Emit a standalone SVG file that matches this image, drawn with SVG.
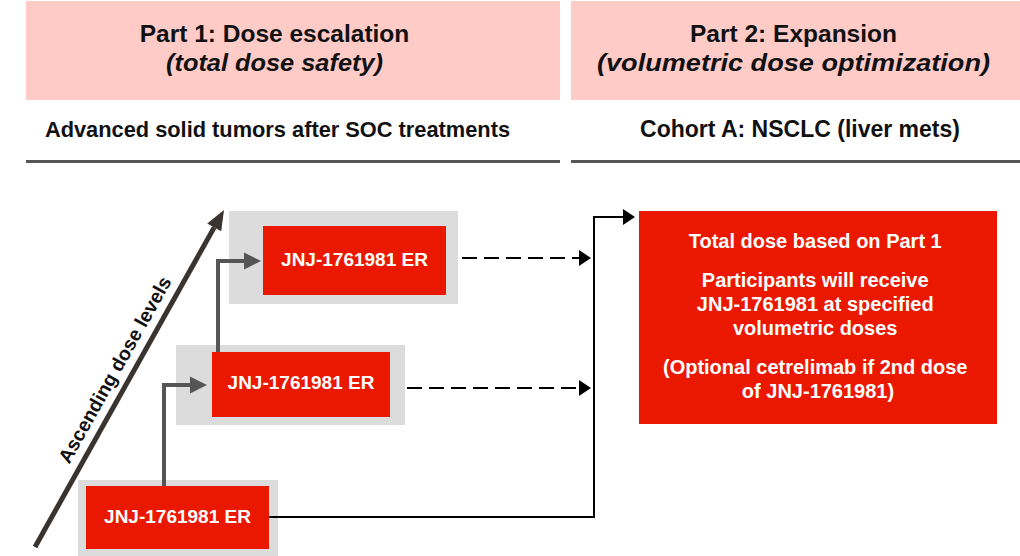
<svg xmlns="http://www.w3.org/2000/svg" width="1020" height="556" viewBox="0 0 1020 556">
<style>
.hdr{fill:#FFCBC7}
.rule{stroke:#555;stroke-width:3}
.t{font-family:"Liberation Sans",Arial,sans-serif;font-weight:bold;text-anchor:middle}
.blk{fill:#111}
.wht{fill:#fff}
.gray{fill:#DCDCDC}
.red{fill:#EB1800}
.step{fill:none;stroke:#555;stroke-width:4}
.conn{fill:none;stroke:#000;stroke-width:2}
.dash{stroke-dasharray:15 7}
</style>
<rect width="1020" height="556" fill="#fff"/>
<g id="header1">
<rect class="hdr" x="26" y="1" width="534" height="99"/>
<text class="t blk" x="274.5" y="42" font-size="24.5">Part 1: Dose escalation</text>
<text class="t blk" x="274.5" y="71" font-size="24" font-style="italic" textLength="217" lengthAdjust="spacingAndGlyphs">(total dose safety)</text>
<text class="t blk" x="277.5" y="137" font-size="21.8">Advanced solid tumors after SOC treatments</text>
<line class="rule" x1="26" y1="161.5" x2="560" y2="161.5"/>
</g>
<g id="header2">
<rect class="hdr" x="571" y="1" width="449" height="99"/>
<text class="t blk" x="793.5" y="42" font-size="24.5">Part 2: Expansion</text>
<text class="t blk" x="793.5" y="71" font-size="24" font-style="italic" textLength="393" lengthAdjust="spacingAndGlyphs">(volumetric dose optimization)</text>
<text class="t blk" x="800" y="137" font-size="23">Cohort A: NSCLC (liver mets)</text>
<line class="rule" x1="571" y1="161.5" x2="1020" y2="161.5"/>
</g>
<g id="axis">
<line x1="35" y1="547" x2="214.2" y2="227.4" stroke="#3A3431" stroke-width="5"/>
<polygon points="224,210 221.2,231.3 207.2,223.5" fill="#3A3431"/>
<text class="t blk" font-size="19.5" transform="translate(120.6,373) rotate(-60.7)">Ascending dose levels</text>
</g>
<g id="node-low">
<rect class="gray" x="78" y="480" width="200" height="76"/>
<rect class="red" x="86" y="486" width="183" height="63"/>
<text class="t wht" x="177.5" y="523" font-size="19">JNJ-1761981 ER</text>
</g>
<g id="node-mid">
<rect class="gray" x="176" y="345" width="229" height="80"/>
<rect class="red" x="212" y="352" width="178" height="65"/>
<text class="t wht" x="301" y="389" font-size="19">JNJ-1761981 ER</text>
</g>
<g id="node-high">
<rect class="gray" x="229" y="211" width="229" height="93"/>
<rect class="red" x="263" y="226" width="183" height="69"/>
<text class="t wht" x="354.5" y="266" font-size="19">JNJ-1761981 ER</text>
</g>
<g id="node-expansion">
<rect class="red" x="639" y="211" width="358" height="213"/>
<text class="t wht" font-size="20">
<tspan x="818" y="248">Total dose based on Part 1</tspan>
<tspan x="818" y="287">Participants will receive</tspan>
<tspan x="818" y="311">JNJ-1761981 at specified</tspan>
<tspan x="818" y="335">volumetric doses</tspan>
<tspan x="818" y="374">(Optional cetrelimab if 2nd dose</tspan>
<tspan x="818" y="398">of JNJ-1761981)</tspan>
</text>
</g>
<g id="connectors">
<path class="step" d="M164,486 V385 H192"/>
<polygon points="190,376.5 207,385 190,393.5" fill="#555"/>
<path class="step" d="M218,352 V261 H246"/>
<polygon points="244,252.5 261,261 244,269.5" fill="#555"/>
<path class="conn" d="M269,517 H594 V217 H624"/>
<polygon points="623,209 635,217 623,225" fill="#000"/>
<path class="conn dash" d="M462,258 H580"/>
<polygon points="579,250 591,258 579,266" fill="#000"/>
<path class="conn dash" d="M407,388 H580"/>
<polygon points="579,380 591,388 579,396" fill="#000"/>
</g>
</svg>
